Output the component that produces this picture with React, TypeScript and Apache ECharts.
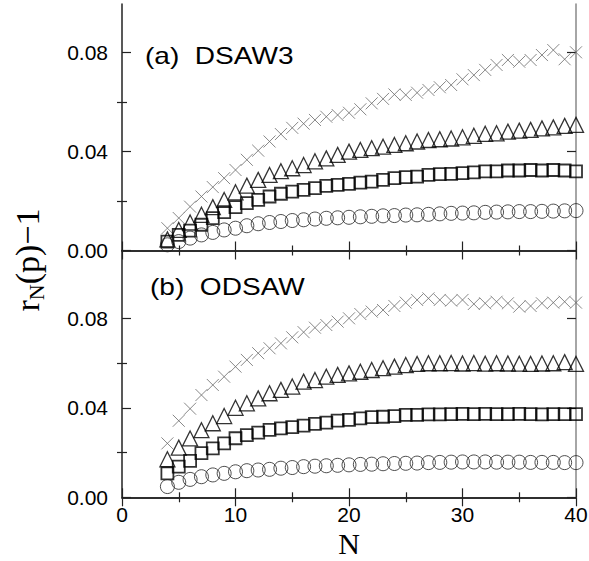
import React, { useEffect, useRef } from "react";
import * as echarts from "echarts";

const nValues = [4, 5, 6, 7, 8, 9, 10, 11, 12, 13, 14, 15, 16, 17, 18, 19, 20, 21, 22, 23, 24, 25, 26, 27, 28, 29, 30, 31, 32, 33, 34, 35, 36, 37, 38, 39, 40];

// (a) DSAW3
const crossA = [0.0090, 0.0131, 0.0177, 0.0218, 0.0256, 0.0292, 0.0325, 0.0366, 0.0403, 0.0440, 0.0470, 0.0495, 0.0512, 0.0527, 0.0540, 0.0547, 0.0556, 0.0570, 0.0594, 0.0612, 0.0630, 0.0628, 0.0637, 0.0648, 0.0659, 0.0668, 0.0691, 0.0708, 0.0729, 0.0749, 0.0769, 0.0762, 0.0769, 0.0789, 0.0809, 0.0772, 0.0800];
const triA = [0.0045, 0.0083, 0.0113, 0.0144, 0.0175, 0.0204, 0.0235, 0.0262, 0.0285, 0.0305, 0.0320, 0.0332, 0.0345, 0.0360, 0.0372, 0.0386, 0.0399, 0.0406, 0.0413, 0.0419, 0.0426, 0.0433, 0.0440, 0.0446, 0.0449, 0.0452, 0.0457, 0.0463, 0.0471, 0.0473, 0.0480, 0.0484, 0.0487, 0.0493, 0.0497, 0.0503, 0.0507];
const sqA = [0.0036, 0.0063, 0.0080, 0.0104, 0.0131, 0.0155, 0.0175, 0.0191, 0.0204, 0.0218, 0.0229, 0.0238, 0.0245, 0.0252, 0.0261, 0.0265, 0.0269, 0.0274, 0.0278, 0.0285, 0.0292, 0.0296, 0.0298, 0.0305, 0.0308, 0.0309, 0.0312, 0.0315, 0.0319, 0.0319, 0.0323, 0.0323, 0.0325, 0.0323, 0.0325, 0.0323, 0.0319];
const circA = [0.0023, 0.0036, 0.0050, 0.0063, 0.0073, 0.0083, 0.0090, 0.0100, 0.0108, 0.0113, 0.0117, 0.0121, 0.0124, 0.0127, 0.0130, 0.0132, 0.0134, 0.0136, 0.0138, 0.0140, 0.0141, 0.0143, 0.0144, 0.0146, 0.0148, 0.0150, 0.0151, 0.0152, 0.0154, 0.0155, 0.0156, 0.0157, 0.0157, 0.0158, 0.0159, 0.0160, 0.0161];

// (b) ODSAW
const crossB = [0.0241, 0.0342, 0.0396, 0.0457, 0.0502, 0.0539, 0.0584, 0.0614, 0.0644, 0.0666, 0.0688, 0.0715, 0.0738, 0.0758, 0.0770, 0.0785, 0.0800, 0.0819, 0.0830, 0.0837, 0.0855, 0.0870, 0.0882, 0.0889, 0.0882, 0.0879, 0.0882, 0.0864, 0.0867, 0.0874, 0.0867, 0.0852, 0.0855, 0.0867, 0.0870, 0.0874, 0.0870];
const triB = [0.0170, 0.0222, 0.0263, 0.0300, 0.0331, 0.0363, 0.0400, 0.0420, 0.0442, 0.0465, 0.0480, 0.0495, 0.0517, 0.0524, 0.0539, 0.0547, 0.0554, 0.0561, 0.0569, 0.0577, 0.0584, 0.0591, 0.0596, 0.0599, 0.0599, 0.0600, 0.0598, 0.0600, 0.0597, 0.0599, 0.0598, 0.0597, 0.0596, 0.0598, 0.0599, 0.0604, 0.0596];
const sqB = [0.0107, 0.0137, 0.0163, 0.0197, 0.0219, 0.0241, 0.0264, 0.0278, 0.0289, 0.0301, 0.0308, 0.0314, 0.0320, 0.0328, 0.0334, 0.0343, 0.0346, 0.0353, 0.0358, 0.0360, 0.0363, 0.0368, 0.0368, 0.0371, 0.0371, 0.0372, 0.0373, 0.0372, 0.0373, 0.0372, 0.0372, 0.0373, 0.0372, 0.0371, 0.0372, 0.0372, 0.0372];
const circB = [0.0048, 0.0067, 0.0080, 0.0092, 0.0100, 0.0107, 0.0114, 0.0119, 0.0122, 0.0125, 0.0130, 0.0133, 0.0137, 0.0139, 0.0141, 0.0143, 0.0145, 0.0147, 0.0148, 0.0150, 0.0151, 0.0152, 0.0153, 0.0155, 0.0156, 0.0157, 0.0158, 0.0158, 0.0158, 0.0157, 0.0157, 0.0157, 0.0156, 0.0156, 0.0156, 0.0155, 0.0155];

const xTicks = [0, 10, 20, 30, 40];
const yMajorTicks = [0, 0.04, 0.08];
const yMinorTicks = [0.02, 0.06];
const panelLabels = ["(a)  DSAW3", "(b)  ODSAW"];
const panelMax = [0.0995, 0.1103];

const SANS = '"Liberation Sans", Arial, Helvetica, sans-serif';
const SERIF = '"Liberation Serif", "Times New Roman", serif';

const grids = [
  { left: 122, top: 4, width: 454, height: 246.5 },
  { left: 122, top: 250.5, width: 454, height: 246.8 },
];

function buildOption() {
  const xAxis: any[] = [];
  const yAxis: any[] = [];
  grids.forEach((g, gi) => {
    ["bottom", "top"].forEach((pos) => {
      xAxis.push({
        gridIndex: gi,
        type: "value",
        position: pos,
        min: 0,
        max: 40,
        interval: 10,
        axisLine: { show: true, lineStyle: { color: "#222", width: 1.5 } },
        axisTick: { show: true, inside: true, length: 9, lineStyle: { color: "#222", width: 1.2 } },
        minorTick: { show: true, splitNumber: 2, length: 5, lineStyle: { color: "#222", width: 1.2 } },
        axisLabel: {
          show: gi === 1 && pos === "bottom",
          fontSize: 21,
          lineHeight: 21,
          fontFamily: SANS,
          color: "#000",
          margin: 7,
          customValues: xTicks,
        },
        splitLine: { show: false },
        minorSplitLine: { show: false },
      });
    });
    ["left", "right"].forEach((pos) => {
      const lineColor = pos === "left" ? "#222" : "#888";
      yAxis.push({
        gridIndex: gi,
        type: "value",
        position: pos,
        min: 0,
        max: panelMax[gi],
        axisLine: { show: true, onZero: false, lineStyle: { color: lineColor, width: 1.5 } },
        axisTick: { show: true, inside: true, length: 9, customValues: yMajorTicks, lineStyle: { color: "#222", width: 1.2 } },
        axisLabel: {
          show: pos === "left",
          customValues: yMajorTicks,
          formatter: (v: number) => v.toFixed(2),
          fontSize: 21,
          fontFamily: SANS,
          color: "#000",
          margin: 14,
        },
        splitLine: { show: false },
      });
      yAxis.push({
        gridIndex: gi,
        type: "value",
        position: pos,
        min: 0,
        max: panelMax[gi],
        axisLine: { show: false },
        axisTick: { show: true, inside: true, length: 5, customValues: yMinorTicks, lineStyle: { color: "#222", width: 1.2 } },
        axisLabel: { show: false },
        splitLine: { show: false },
      });
    });
  });

  const mk = (gi: number, vals: number[], kind: string) => {
    const base: any = {
      type: "scatter",
      xAxisIndex: gi * 2,
      yAxisIndex: gi * 4,
      data: nValues.map((n, i) => [n, vals[i]]),
      silent: true,
    };
    if (kind === "cross") {
      base.symbol = "path://M0 0L10 10M10 0L0 10";
      base.symbolSize = 12;
      base.itemStyle = { color: "rgba(0,0,0,0)", borderColor: "#6a6a6a", borderWidth: 1 };
    } else if (kind === "tri") {
      base.symbol = "triangle";
      base.symbolSize = [15, 15];
      base.itemStyle = { color: "rgba(0,0,0,0)", borderColor: "#000", borderWidth: 1.3 };
    } else if (kind === "sq") {
      base.symbol = "rect";
      base.symbolSize = [12, 12];
      base.itemStyle = { color: "rgba(0,0,0,0)", borderColor: "#000", borderWidth: 1.8 };
    } else {
      base.symbol = "circle";
      base.symbolSize = 14;
      base.itemStyle = { color: "rgba(0,0,0,0)", borderColor: "#222", borderWidth: 1 };
    }
    return base;
  };

  const series = [
    mk(0, crossA, "cross"), mk(0, triA, "tri"), mk(0, sqA, "sq"), mk(0, circA, "circ"),
    mk(1, crossB, "cross"), mk(1, triB, "tri"), mk(1, sqB, "sq"), mk(1, circB, "circ"),
  ];

  return {
    animation: false,
    backgroundColor: "#fff",
    grid: grids.map((g) => ({ ...g, containLabel: false, outerBoundsMode: "none" })),
    xAxis,
    yAxis,
    series,
    graphic: [
      {
        type: "text",
        x: 145,
        y: 56,
        scaleX: 1.22,
        style: { text: panelLabels[0], font: `23px ${SANS}`, fill: "#000", verticalAlign: "middle", align: "left" },
      },
      {
        type: "text",
        x: 150,
        y: 287,
        scaleX: 1.22,
        style: { text: panelLabels[1], font: `23px ${SANS}`, fill: "#000", verticalAlign: "middle", align: "left" },
      },
      {
        type: "text",
        x: 349,
        y: 543,
        style: { text: "N", font: `30px ${SERIF}`, lineHeight: 30, fill: "#000", align: "center", verticalAlign: "middle" },
      },
      {
        type: "text",
        x: 27,
        y: 260,
        rotation: Math.PI / 2,
        style: {
          text: "{a|r}{b|N}{a|(p)−1}",
          align: "center",
          verticalAlign: "middle",
          fill: "#000",
          rich: {
            a: { fontSize: 34, fontFamily: SERIF, lineHeight: 40, fill: "#000", verticalAlign: "middle" },
            b: { fontSize: 22, fontFamily: SERIF, lineHeight: 22, fill: "#000", verticalAlign: "bottom" },
          },
        },
      },
    ],
  };
}

export default function App() {
  const ref = useRef<HTMLDivElement>(null);
  useEffect(() => {
    if (!ref.current) return;
    const chart = echarts.init(ref.current, undefined, { renderer: "svg" });
    chart.setOption(buildOption() as any);
    return () => chart.dispose();
  }, []);
  return (
    <div
      ref={ref}
      style={{ position: "fixed", left: 0, top: 0, width: 589, height: 561, background: "#fff" }}
    />
  );
}
